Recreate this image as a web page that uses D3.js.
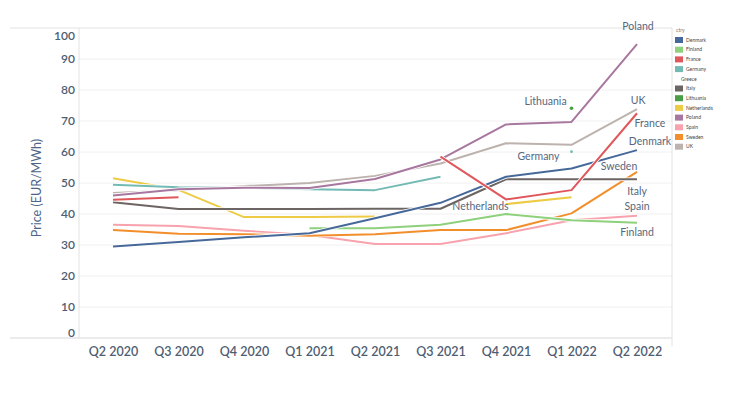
<!DOCTYPE html>
<html><head><meta charset="utf-8">
<script src="https://cdn.jsdelivr.net/npm/d3@7"></script>
<style>body{margin:0;background:#fff;font-family:Lato,"Open Sans",sans-serif;}</style>
</head><body><svg id="c" width="734" height="403"></svg>
<script>
const quarters = ["Q2 2020","Q3 2020","Q4 2020","Q1 2021","Q2 2021","Q3 2021","Q4 2021","Q1 2022","Q2 2022"];
const yTicks = [0,10,20,30,40,50,60,70,80,90,100];
const legendNames = ["Denmark","Finland","France","Germany","Greece","Italy","Lithuania","Netherlands","Poland","Spain","Sweden","UK"];
const colors = {Denmark:"#46699a",Finland:"#8fd07c",France:"#e0575b",Germany:"#74bab4",Greece:null,Italy:"#6d6563",Lithuania:"#4a9e45",Netherlands:"#eecb45",Poland:"#a8779f",Spain:"#f7a2ad",Sweden:"#f28e2b",UK:"#bdb3ae"};
const denmark     = [29.5,31,32.5,33.8,38.6,43.6,52,54.7,60.6];
const finland     = [null,null,null,35.4,35.4,36.5,40,38,37.2];
const france      = [44.6,45.4,null,null,null,58.5,44.7,47.7,72.5];
const germany     = [49.4,48.6,48.5,48,47.7,52,null,60.1,null];
const italy       = [43.8,41.6,41.6,41.6,41.7,41.7,51.2,51.2,51.2];
const lithuania   = [null,null,null,null,null,null,null,74.1,null];
const netherlands = [51.5,47.8,39,39,39.2,null,43.2,45.4,null];
const poland      = [46,48,48.5,48.4,51.3,57.6,68.9,69.7,94.8];
const spain       = [36.5,36.1,34.6,33.2,30.3,30.3,33.8,38,39.4];
const sweden      = [34.8,33.6,33.5,33,33.5,34.8,34.8,40.2,53.6];
const uk          = [46.8,47.7,49,50,52.3,56.3,62.8,62.3,73.8];
const seriesData = [["UK",uk],["Spain",spain],["Sweden",sweden],["Finland",finland],["Netherlands",netherlands],["Germany",germany],["Italy",italy],["Poland",poland],["Denmark",denmark],["France",france],["Lithuania",lithuania]];
const endLabels = [
 {name:"Poland",q:"Q2 2022",v:100.5,dx:1},
 {name:"Lithuania",q:"Q1 2022",v:76.2,dx:-26},
 {name:"UK",q:"Q2 2022",v:76.8,dx:1},
 {name:"France",q:"Q2 2022",v:69.2,dx:13},
 {name:"Denmark",q:"Q2 2022",v:63.3,dx:13},
 {name:"Germany",q:"Q1 2022",v:58.5,dx:-33},
 {name:"Sweden",q:"Q2 2022",v:55.3,dx:-18},
 {name:"Italy",q:"Q2 2022",v:47.4,dx:0},
 {name:"Netherlands",q:"Q3 2021",v:42.6,dx:40},
 {name:"Spain",q:"Q2 2022",v:42.5,dx:0},
 {name:"Finland",q:"Q2 2022",v:34.2,dx:0}
];

const svg = d3.select("#c");
const L=79, R=672, T=28, B=338;
const x = d3.scalePoint().domain(quarters).range([113,637]);
const y = d3.scaleLinear().domain([0,100]).range([B,T]);

// grid
svg.append("g").selectAll("line").data(yTicks.filter(t=>t>0&&t<100)).join("line")
  .attr("x1",L).attr("x2",R).attr("y1",d=>y(d)).attr("y2",d=>y(d))
  .attr("stroke","#f0f0f0").attr("stroke-width",1);
// frame
const fc="#e2e2e2";
svg.append("line").attr("x1",10).attr("x2",R).attr("y1",T).attr("y2",T).attr("stroke",fc);
svg.append("line").attr("x1",10).attr("x2",R).attr("y1",B).attr("y2",B).attr("stroke","#d8d8d8");
svg.append("line").attr("x1",L).attr("x2",L).attr("y1",T).attr("y2",B).attr("stroke",fc);
svg.append("line").attr("x1",R).attr("x2",R).attr("y1",T).attr("y2",B+8).attr("stroke",fc);

// y axis labels
const yAxis = d3.axisLeft(y).tickValues(yTicks).tickSize(0).tickPadding(4);
const ga = svg.append("g").attr("transform",`translate(${L},0)`).call(yAxis);
ga.select(".domain").remove();
ga.selectAll("text").attr("font-family","Lato").attr("font-size",12).attr("font-weight",600).attr("fill","#4e5d72")
  .attr("dy",d=>d===100?"0.95em":d===0?"-0.15em":"0.32em");

// x axis labels
const xAxis = d3.axisBottom(x).tickSize(0).tickPadding(9);
const gx = svg.append("g").attr("transform",`translate(0,${B})`).call(xAxis);
gx.select(".domain").remove();
gx.selectAll("text").attr("font-family","Lato").attr("font-size",12.5).attr("font-weight",600).attr("fill","#4e5d72");

// axis title
svg.append("text").attr("transform",`translate(41,${(T+B)/2+5}) rotate(-90)`).attr("text-anchor","middle")
  .attr("font-family","Lato").attr("font-size",12.5).attr("fill","#4d6688").text("Price (EUR/MWh)");

// lines
const line = d3.line().defined(d=>d.v!=null).x(d=>x(d.q)).y(d=>y(d.v));
const g = svg.append("g");
seriesData.forEach(([name,vals])=>{
  const pts = vals.map((v,i)=>({q:quarters[i],v}));
  g.append("path").attr("d",line(pts)).attr("fill","none").attr("stroke","#fff").attr("stroke-width",3.6).attr("stroke-linejoin","round");
  g.append("path").attr("d",line(pts)).attr("fill","none").attr("stroke",colors[name]).attr("stroke-width",2).attr("stroke-linejoin","round");
  pts.forEach((p,i)=>{
    if(p.v!=null && (i===0||vals[i-1]==null) && (i===vals.length-1||vals[i+1]==null)){
      g.append("circle").attr("cx",x(p.q)).attr("cy",y(p.v)).attr("r",name==="Lithuania"?1.8:1.4).attr("fill",colors[name]);
    }
  });
});

// end labels
svg.append("g").selectAll("text").data(endLabels).join("text")
  .attr("x",d=>x(d.q)+d.dx).attr("y",d=>y(d.v)).attr("text-anchor","middle")
  .attr("font-family","Lato").attr("font-size",10.5).attr("fill","#56677e").attr("dy","0.35em").text(d=>d.name);

// legend
const lg = svg.append("g").attr("transform","translate(675,0)");
lg.append("text").attr("x",1).attr("y",32).attr("font-family","Lato").attr("font-size",5).attr("fill","#777").text("ctry");
legendNames.forEach((n,i)=>{
  const cy = 40 + i*9.7;
  if(colors[n]) lg.append("rect").attr("x",0).attr("y",cy-3).attr("width",8).attr("height",6).attr("fill",colors[n]);
  lg.append("text").attr("x",n==="Greece"?6:11).attr("y",cy).attr("dy","0.35em").attr("font-family","Lato").attr("font-size",5).attr("fill","#444").text(n);
});
</script></body></html>
